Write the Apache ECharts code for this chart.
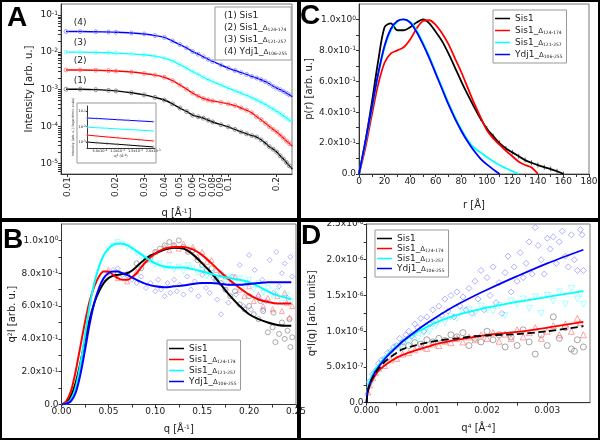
<!DOCTYPE html>
<html><head><meta charset="utf-8">
<script src="https://cdn.jsdelivr.net/npm/echarts@6.0.0/dist/echarts.min.js"></script>
<style>html,body{margin:0;padding:0;background:#fff}#c{width:600px;height:440px}</style>
</head><body><div id="c"></div><script>
// ---------- shared ----------
const sampleNames = ['Sis1', 'Sis1_', 'Sis1_', 'Ydj1_'];
const sampleSubs = ['', '124-174', '121-257', '106-255'];
const lineColors = ['#000000', '#ff0000', '#00ffff', '#0000ff'];
const markColors = ['#7a7a7a', '#ff7474', '#7dffff', '#8a8aff'];

// ---------- Panel A : log-log SAXS ----------
const aQ = [0.0098,0.012,0.015,0.018,0.02,0.025,0.03,0.035,0.04,0.045,0.05,0.055,0.06,0.065,0.07,0.075,0.08,0.09,0.1,0.11,0.12,0.13,0.14,0.15,0.16,0.17,0.18,0.19,0.2,0.21,0.22,0.23,0.24,0.25];
const aI1 = [1.0e-3,1.0e-3,9.7e-4,9.3e-4,9.0e-4,8.0e-4,7.0e-4,6.0e-4,5.1e-4,4.0e-4,3.1e-4,2.5e-4,2.0e-4,1.8e-4,1.65e-4,1.45e-4,1.3e-4,1.1e-4,9.6e-5,8.2e-5,7.0e-5,6.2e-5,5.6e-5,5.1e-5,4.3e-5,3.5e-5,2.8e-5,2.4e-5,2.0e-5,1.6e-5,1.3e-5,1.05e-5,8.5e-6,7.0e-6];
const aI2 = [3.3e-3,3.3e-3,3.25e-3,3.15e-3,3.1e-3,2.9e-3,2.65e-3,2.4e-3,2.1e-3,1.7e-3,1.3e-3,1.0e-3,7.8e-4,6.5e-4,5.6e-4,5.1e-4,4.8e-4,4.4e-4,4.0e-4,3.6e-4,3.1e-4,2.7e-4,2.3e-4,1.8e-4,1.5e-4,1.2e-4,9.8e-5,8.2e-5,7.0e-5,5.8e-5,4.8e-5,4.0e-5,3.4e-5,2.9e-5];
const aI3 = [1.0e-2,1.0e-2,9.8e-3,9.6e-3,9.4e-3,9.0e-3,8.5e-3,7.8e-3,6.9e-3,5.8e-3,4.6e-3,3.7e-3,3.0e-3,2.5e-3,2.1e-3,1.8e-3,1.6e-3,1.3e-3,1.07e-3,9.0e-4,7.8e-4,6.8e-4,5.9e-4,5.1e-4,4.5e-4,3.9e-4,3.3e-4,2.9e-4,2.5e-4,2.2e-4,1.9e-4,1.65e-4,1.45e-4,1.3e-4];
const aI4 = [3.6e-2,3.6e-2,3.55e-2,3.5e-2,3.45e-2,3.3e-2,3.1e-2,2.8e-2,2.5e-2,2.0e-2,1.6e-2,1.3e-2,1.04e-2,8.8e-3,7.5e-3,6.4e-3,5.6e-3,4.5e-3,3.7e-3,3.2e-3,2.8e-3,2.5e-3,2.2e-3,2.0e-3,1.8e-3,1.6e-3,1.4e-3,1.2e-3,1.07e-3,9.7e-4,8.7e-4,7.8e-4,7.0e-4,6.3e-4];
const aXTicks = [0.01,0.02,0.03,0.04,0.05,0.06,0.07,0.08,0.09,0.1,0.2];
const aYTicks = [-5,-4,-3,-2,-1];
// inset (Guinier region)
const insetQ2 = [1.4e-4,4e-4,7e-4,1.0e-3,1.3e-3,1.6e-3,2.0e-3];
const inset1 = [-3.0,-3.05,-3.1,-3.15,-3.2,-3.25,-3.32];
const inset2 = [-2.55,-2.61,-2.67,-2.73,-2.79,-2.85,-2.93];
const inset3 = [-2.03,-2.07,-2.11,-2.15,-2.19,-2.23,-2.28];
const inset4 = [-1.44,-1.47,-1.51,-1.55,-1.59,-1.63,-1.68];
const insetXTicks = [5e-4,1e-3,1.5e-3,2e-3];
const insetYTicks = [-3,-2,-1];

// ---------- Panel B : Kratky ----------
const bQ = [0,0.005,0.01,0.015,0.02,0.025,0.03,0.035,0.04,0.045,0.05,0.055,0.06,0.065,0.07,0.075,0.08,0.09,0.1,0.11,0.12,0.13,0.14,0.15,0.16,0.17,0.18,0.19,0.2,0.21,0.22,0.23,0.24,0.245];
const bV1 = [0,0.01,0.05,0.13,0.25,0.39,0.52,0.62,0.69,0.74,0.77,0.785,0.79,0.795,0.80,0.815,0.84,0.89,0.92,0.945,0.955,0.95,0.915,0.86,0.80,0.73,0.66,0.60,0.55,0.52,0.50,0.485,0.48,0.48];
const bV2 = [0,0.02,0.08,0.2,0.35,0.5,0.63,0.72,0.78,0.81,0.81,0.79,0.77,0.76,0.76,0.775,0.80,0.87,0.92,0.95,0.96,0.96,0.945,0.91,0.86,0.805,0.755,0.71,0.67,0.64,0.625,0.615,0.615,0.615];
const bV3 = [0,0.005,0.03,0.1,0.24,0.42,0.6,0.74,0.84,0.91,0.95,0.975,0.98,0.98,0.97,0.955,0.935,0.895,0.86,0.84,0.835,0.835,0.825,0.81,0.795,0.78,0.77,0.76,0.745,0.72,0.69,0.665,0.65,0.64];
const bV4 = [0,0.005,0.02,0.07,0.18,0.33,0.49,0.62,0.71,0.77,0.80,0.81,0.81,0.80,0.79,0.775,0.76,0.735,0.72,0.715,0.72,0.725,0.735,0.74,0.74,0.735,0.73,0.73,0.735,0.74,0.745,0.745,0.745,0.745];
const bPts1 = [[0.06,0.80],[0.07,0.79],[0.08,0.86],[0.085,0.83],[0.09,0.88],[0.095,0.90],[0.1,0.93],[0.105,0.95],[0.11,0.97],[0.115,0.99],[0.12,0.97],[0.125,1.00],[0.13,0.96],[0.135,0.93],[0.14,0.94],[0.145,0.88],[0.15,0.85],[0.155,0.82],[0.16,0.83],[0.165,0.76],[0.17,0.74],[0.175,0.70],[0.18,0.66],[0.185,0.69],[0.19,0.61],[0.195,0.58],[0.2,0.60],[0.205,0.55],[0.21,0.52],[0.215,0.57],[0.22,0.44],[0.225,0.47],[0.228,0.38],[0.232,0.43],[0.235,0.50],[0.238,0.40],[0.241,0.45],[0.244,0.35],[0.246,0.41],[0.212,0.63],[0.226,0.56],[0.2,0.66],[0.243,0.52]];
const bPts2 = [[0.05,0.82],[0.06,0.77],[0.07,0.75],[0.08,0.81],[0.09,0.88],[0.1,0.93],[0.11,0.96],[0.115,0.94],[0.12,0.97],[0.125,0.95],[0.13,0.98],[0.135,0.94],[0.14,0.96],[0.145,0.90],[0.15,0.93],[0.155,0.87],[0.16,0.88],[0.165,0.82],[0.17,0.80],[0.175,0.78],[0.18,0.74],[0.185,0.78],[0.19,0.70],[0.195,0.66],[0.2,0.72],[0.205,0.63],[0.21,0.67],[0.215,0.60],[0.22,0.65],[0.225,0.58],[0.23,0.66],[0.235,0.57],[0.24,0.62],[0.243,0.53],[0.246,0.60],[0.238,0.68]];
const bPts3 = [[0.05,0.95],[0.055,0.97],[0.06,0.99],[0.065,0.98],[0.07,0.96],[0.075,0.95],[0.08,0.92],[0.085,0.90],[0.09,0.88],[0.095,0.87],[0.1,0.85],[0.105,0.86],[0.11,0.83],[0.115,0.85],[0.12,0.82],[0.125,0.84],[0.13,0.81],[0.135,0.85],[0.14,0.83],[0.145,0.80],[0.15,0.82],[0.155,0.78],[0.16,0.80],[0.165,0.76],[0.17,0.79],[0.175,0.75],[0.18,0.78],[0.185,0.74],[0.19,0.77],[0.195,0.72],[0.2,0.76],[0.205,0.70],[0.21,0.74],[0.215,0.68],[0.22,0.71],[0.225,0.66],[0.23,0.69],[0.235,0.62],[0.24,0.67],[0.245,0.63]];
const bPts4 = [[0.05,0.80],[0.055,0.82],[0.06,0.83],[0.065,0.79],[0.07,0.80],[0.075,0.76],[0.08,0.74],[0.085,0.78],[0.09,0.71],[0.095,0.74],[0.1,0.69],[0.103,0.76],[0.106,0.70],[0.11,0.66],[0.113,0.74],[0.116,0.68],[0.12,0.76],[0.123,0.69],[0.126,0.73],[0.13,0.67],[0.134,0.78],[0.138,0.70],[0.142,0.75],[0.146,0.66],[0.15,0.79],[0.154,0.71],[0.158,0.68],[0.162,0.77],[0.166,0.64],[0.17,0.80],[0.174,0.70],[0.178,0.62],[0.182,0.78],[0.186,0.67],[0.19,0.85],[0.194,0.60],[0.198,0.74],[0.202,0.58],[0.206,0.82],[0.21,0.66],[0.214,0.76],[0.218,0.63],[0.222,0.88],[0.226,0.68],[0.229,0.93],[0.232,0.72],[0.235,0.80],[0.238,0.86],[0.241,0.65],[0.244,0.90],[0.246,0.78],[0.2,0.91],[0.17,0.55],[0.215,0.58]];
const bXTicks = [0,0.05,0.1,0.15,0.2,0.25];
const bYTicks = [0,0.2,0.4,0.6,0.8,1.0];

// ---------- Panel C : p(r) ----------
const cR = [0,5,10,15,20,25,30,35,40,45,50,55,60,65,70,75,80,85,90,95,100,105,110,115,120,125,130,135,140,145,150,155,160];
const cV1 = [0,0.21,0.46,0.73,0.95,0.975,0.93,0.93,0.95,0.98,1.0,0.975,0.92,0.86,0.78,0.69,0.60,0.515,0.435,0.36,0.295,0.245,0.2,0.165,0.14,0.115,0.09,0.073,0.058,0.044,0.032,0.018,0];
const cV2 = [0,0.17,0.38,0.58,0.72,0.78,0.80,0.82,0.87,0.94,0.99,0.995,0.965,0.91,0.84,0.75,0.66,0.56,0.46,0.37,0.285,0.23,0.19,0.15,0.115,0.08,0.058,0.042,0];
const cV3 = [0,0.2,0.42,0.64,0.82,0.93,0.985,1.0,0.985,0.93,0.85,0.76,0.66,0.56,0.46,0.37,0.29,0.22,0.17,0.14,0.11,0.083,0.058,0.037,0.018,0];
const cV4 = [0,0.21,0.43,0.65,0.83,0.94,0.99,1.0,0.98,0.92,0.84,0.75,0.65,0.55,0.45,0.36,0.28,0.21,0.15,0.10,0.062,0.03,0];
const cXTicks = [0,20,40,60,80,100,120,140,160,180];
const cYTicks = [0,0.2,0.4,0.6,0.8,1.0];

// ---------- Panel D : Porod (values in units of 1e-6) ----------
const dX = [0,0.00001,0.00003,0.00006,0.0001,0.00015,0.0002,0.0003,0.0004,0.0005,0.0006,0.0008,0.001,0.0012,0.0015,0.0018,0.002,0.0025,0.003,0.0036];
const dV1 = [0,0.11,0.2,0.28,0.35,0.42,0.48,0.57,0.64,0.7,0.75,0.8,0.84,0.87,0.9,0.93,0.94,0.96,1.0,1.07];
const dV2 = [0,0.1,0.18,0.25,0.32,0.39,0.45,0.52,0.58,0.63,0.67,0.73,0.78,0.83,0.88,0.92,0.95,0.99,1.05,1.13];
const dV3 = [0.02,0.14,0.24,0.32,0.4,0.47,0.53,0.63,0.72,0.79,0.86,0.97,1.06,1.14,1.23,1.29,1.33,1.41,1.48,1.56];
const dV4 = [0,0.12,0.2,0.28,0.36,0.44,0.5,0.61,0.7,0.78,0.86,0.99,1.11,1.22,1.37,1.5,1.58,1.77,1.95,2.14];
const dPts1 = [[0.0006,0.78],[0.0007,0.8],[0.0008,0.84],[0.0009,0.82],[0.001,0.88],[0.0011,0.85],[0.0012,0.9],[0.0013,0.87],[0.0014,0.95],[0.0015,0.92],[0.0016,0.98],[0.0017,0.8],[0.0018,0.9],[0.0019,0.85],[0.002,1.0],[0.0021,0.88],[0.0022,0.95],[0.0023,0.78],[0.0024,0.92],[0.0025,0.8],[0.0026,1.02],[0.0027,0.85],[0.0028,0.68],[0.0029,0.95],[0.003,0.8],[0.0031,1.2],[0.0032,0.9],[0.0033,1.05],[0.0034,0.75],[0.0035,0.88],[0.0036,0.78],[0.00345,0.72]];
const dPts2 = [[0.00002,0.15],[0.00005,0.25],[0.0001,0.35],[0.00015,0.42],[0.0002,0.48],[0.0003,0.52],[0.0004,0.6],[0.0005,0.62],[0.0006,0.68],[0.0007,0.7],[0.0008,0.74],[0.0009,0.78],[0.001,0.76],[0.0011,0.82],[0.0012,0.8],[0.0013,0.86],[0.0014,0.84],[0.0015,0.9],[0.0016,0.85],[0.0017,0.92],[0.0018,0.88],[0.0019,0.95],[0.002,0.9],[0.0021,0.98],[0.0022,0.86],[0.0023,0.96],[0.0024,0.9],[0.0025,1.02],[0.0026,0.92],[0.0027,0.98],[0.0028,1.05],[0.0029,0.9],[0.003,1.0],[0.0031,1.08],[0.0032,0.95],[0.0033,1.1],[0.0034,1.0],[0.0035,1.18],[0.0036,0.95],[0.00355,1.12]];
const dPts3 = [[0.00005,0.25],[0.0001,0.3],[0.0002,0.42],[0.0003,0.55],[0.0004,0.65],[0.0005,0.78],[0.00055,0.75],[0.0006,0.82],[0.00065,0.88],[0.0007,0.85],[0.00075,0.92],[0.0008,0.95],[0.00085,0.9],[0.0009,1.0],[0.00095,0.98],[0.001,1.05],[0.00105,1.0],[0.0011,1.1],[0.00115,1.08],[0.0012,1.15],[0.0013,1.12],[0.0014,1.2],[0.0015,1.18],[0.0016,1.28],[0.0017,1.3],[0.0018,1.25],[0.0019,1.35],[0.002,1.3],[0.0021,1.28],[0.0022,1.36],[0.0023,1.22],[0.0024,1.42],[0.0025,1.38],[0.0026,1.45],[0.0027,1.32],[0.0028,1.48],[0.0029,1.25],[0.003,1.5],[0.0031,1.42],[0.0032,1.55],[0.0033,1.38],[0.0034,1.6],[0.0035,1.45],[0.0036,1.38],[0.00355,1.52]];
const dPts4 = [[0.00005,0.3],[0.0001,0.4],[0.00015,0.45],[0.0002,0.55],[0.00025,0.6],[0.0003,0.62],[0.00035,0.7],[0.0004,0.72],[0.00045,0.78],[0.0005,0.8],[0.00055,0.9],[0.0006,0.85],[0.00065,0.95],[0.0007,1.0],[0.00075,0.93],[0.0008,1.1],[0.00085,1.05],[0.0009,1.18],[0.00095,1.0],[0.001,1.2],[0.00105,1.1],[0.0011,1.3],[0.00115,1.15],[0.0012,1.35],[0.00125,1.22],[0.0013,1.45],[0.00135,1.28],[0.0014,1.5],[0.00145,1.2],[0.0015,1.55],[0.00155,1.35],[0.0016,1.48],[0.00165,1.3],[0.0017,1.6],[0.00175,1.25],[0.0018,1.7],[0.00185,1.45],[0.0019,1.85],[0.00195,1.3],[0.002,1.75],[0.00205,1.5],[0.0021,1.9],[0.00215,1.4],[0.0022,1.68],[0.00225,1.25],[0.0023,1.82],[0.00235,2.05],[0.0024,1.55],[0.00245,1.9],[0.0025,1.7],[0.00255,2.1],[0.0026,1.75],[0.00265,1.95],[0.0027,2.25],[0.00275,1.8],[0.0028,2.45],[0.00285,2.2],[0.0029,2.0],[0.00295,1.8],[0.003,2.3],[0.00305,2.15],[0.0031,2.32],[0.00315,1.95],[0.0032,2.25],[0.00325,2.4],[0.0033,2.05],[0.00335,1.9],[0.0034,2.35],[0.00345,2.0],[0.0035,1.85],[0.00355,2.42],[0.0036,1.85],[0.00358,2.35]];
const dXTicks = [0,0.001,0.002,0.003];
const dYTicks = [0,0.5,1.0,1.5,2.0,2.5];
const dUnit = 1e-6;

// ================= build =================
const FONT = 'DejaVu Sans';
const TXT = '#222';
const lg = Math.log10;
const chart = echarts.init(document.getElementById('c'), null, {renderer: 'canvas', width: 600, height: 440});

function rich(fs) {
  return {
    b: {fontSize: fs, fontFamily: FONT, color: TXT},
    t: {fontSize: fs, fontFamily: FONT, color: TXT},
    s: {fontSize: Math.max(3, Math.round(fs * 0.62)), fontFamily: FONT, color: TXT, verticalAlign: 'top'}
  };
}
function sci(v) {
  if (v === 0) return '{b|0.0}';
  const e = Math.floor(lg(v) + 1e-9);
  const m = v / Math.pow(10, e);
  return '{b|' + m.toFixed(1) + 'x10}{s|' + e + '}';
}
function halfSteps(ticks) {
  const out = [];
  for (let i = 0; i < ticks.length; i++) {
    out.push(ticks[i]);
    if (i < ticks.length - 1) out.push((ticks[i] + ticks[i + 1]) / 2);
  }
  return out;
}
const aYTickMarks = [];
for (let n = -6; n <= -1; n++) for (let k = 1; k <= 9; k++) {
  const v = n + lg(k);
  if (v > -5.29 && v < -0.70) aYTickMarks.push(v);
}

function axis(o) {
  return {
    type: 'value', gridIndex: o.grid, min: o.min, max: o.max, z: o.z || 0,
    splitLine: {show: false},
    axisLine: {show: true, onZero: false, lineStyle: {color: '#333', width: 1}},
    axisTick: {show: true, inside: false, length: o.tickLen || 3, customValues: o.ticks, lineStyle: {color: '#333'}},
    axisLabel: {show: true, customValues: o.labels, formatter: o.fmt, fontFamily: FONT, fontSize: o.fs || 9,
      color: TXT, margin: o.margin || 3, rotate: o.rotate || 0, rich: rich(o.fs || 9),
      showMinLabel: true, showMaxLabel: true, hideOverlap: false},
    name: o.name || '', nameLocation: 'middle', nameGap: o.gap || 20, nameRotate: o.nameRotate,
    nameTextStyle: {fontFamily: FONT, fontSize: o.nfs || 10, color: TXT, rich: rich(o.nfs || 10)}
  };
}

const xAxes = [
  axis({grid: 0, min: -2.04, max: -0.604, ticks: aXTicks.map(lg), labels: aXTicks.map(lg), rotate: 90,
    fmt: v => '{b|' + parseFloat(Math.pow(10, v).toFixed(2)) + '}', name: '{t|q [Å}{s|-1}{t|]}', gap: 34}),
  axis({grid: 1, min: 0, max: 0.25, ticks: halfSteps(bXTicks), labels: bXTicks,
    fmt: v => '{b|' + v.toFixed(2) + '}', name: '{t|q [Å}{s|-1}{t|]}', gap: 20}),
  axis({grid: 2, min: 0, max: 180, ticks: halfSteps(cXTicks), labels: cXTicks,
    fmt: v => '{b|' + v + '}', name: 'r [Å]', gap: 26}),
  axis({grid: 3, min: 0, max: 0.00371, ticks: halfSteps(dXTicks), labels: dXTicks,
    fmt: v => '{b|' + v.toFixed(3) + '}', name: '{t|q}{s|4}{t| [Å}{s|-4}{t|]}', gap: 21}),
  axis({grid: 4, min: 1.34e-4, max: 2.05e-3, ticks: insetXTicks, labels: insetXTicks, fs: 3.5, nfs: 3.5, tickLen: 1, margin: 1, z: 20,
    fmt: sci, name: '{t|q}{s|2}{t| (Å}{s|-2}{t|)}', gap: 5})
];
const yAxes = [
  axis({grid: 0, min: -5.29, max: -0.70, ticks: aYTickMarks, labels: aYTicks,
    fmt: v => '{b|10}{s|' + v + '}', name: 'Intensity [arb. u.]', gap: 27, nameRotate: 90}),
  axis({grid: 1, min: 0, max: 1.1, ticks: halfSteps(bYTicks), labels: bYTicks,
    fmt: sci, name: '{t|q}{s|2}{t|I [arb. u.]}', gap: 44, nameRotate: 90}),
  axis({grid: 2, min: 0, max: 1.1, ticks: halfSteps(cYTicks), labels: cYTicks,
    fmt: sci, name: 'p(r) [arb. u.]', gap: 45, nameRotate: 90}),
  axis({grid: 3, min: 0, max: 2.5, ticks: halfSteps(dYTicks), labels: dYTicks,
    fmt: v => sci(v * dUnit), name: '{t|q}{s|4}{t|I(q) [arb. units]}', gap: 49, nameRotate: 90}),
  axis({grid: 4, min: -3.39, max: -0.66, ticks: insetYTicks, labels: insetYTicks, fs: 3.5, nfs: 3.2, tickLen: 1, margin: 1, z: 20,
    fmt: v => '{b|10}{s|' + v + '}', name: 'Intensity [arb. u.] (logarithmic scale)', gap: 6, nameRotate: 90})
];

const grids = [
  {left: 61, top: 4, width: 231, height: 170},
  {left: 61.5, top: 224, width: 234.5, height: 180.5},
  {left: 359, top: 4, width: 230, height: 170},
  {left: 366.6, top: 224, width: 223.4, height: 178.7},
  {left: 87, top: 106, width: 68, height: 42}
].map((g, i) => Object.assign(g, {show: i < 4, borderColor: '#777', borderWidth: 1, backgroundColor: 'transparent',
  containLabel: false, outerBoundsMode: 'none'}));

const series = [];
const aSets = [aI1, aI2, aI3, aI4];
const bSets = [bV1, bV2, bV3, bV4];
const bPts = [bPts1, bPts2, bPts3, bPts4];
const cSets = [cV1, cV2, cV3, cV4];
const dSets = [dV1, dV2, dV3, dV4];
const dPts = [dPts1, dPts2, dPts3, dPts4];
const insetSets = [inset1, inset2, inset3, inset4];
const shapes = ['circle', 'triangle', 'triangle', 'diamond'];
const rotations = [0, 0, 180, 0];

for (let i = 0; i < 4; i++) {
  // A
  series.push({
    type: 'line', name: 'A' + (i + 1), xAxisIndex: 0, yAxisIndex: 0, z: 3, smooth: 0.3,
    data: aQ.map((q, j) => [lg(q), lg(aSets[i][j])]),
    symbol: 'circle', symbolSize: 4, showSymbol: true,
    itemStyle: {color: 'rgba(0,0,0,0)', borderColor: markColors[i], borderWidth: 0.8},
    lineStyle: {color: lineColors[i], width: 1.4},
    markPoint: {
      symbol: 'circle', symbolSize: 1, itemStyle: {color: 'rgba(0,0,0,0)'},
      label: {show: true, position: 'top', distance: 4, formatter: '(' + (i + 1) + ')', fontFamily: FONT, fontSize: 9, color: TXT},
      data: [{coord: [lg(aQ[1]), lg(aSets[i][1])]}]
    }
  });
  // inset
  series.push({
    type: 'line', name: 'I' + (i + 1), xAxisIndex: 4, yAxisIndex: 4, z: 21,
    data: insetQ2.map((x, j) => [x, insetSets[i][j]]),
    symbol: 'circle', symbolSize: 2, showSymbol: true,
    itemStyle: {color: 'rgba(0,0,0,0)', borderColor: markColors[i], borderWidth: 0.5},
    lineStyle: {color: lineColors[i], width: 1},
    markPoint: {
      symbol: 'circle', symbolSize: 1, itemStyle: {color: 'rgba(0,0,0,0)'},
      label: {show: true, position: 'top', distance: 1, formatter: '(' + (i + 1) + ')', fontFamily: FONT, fontSize: 3.5, color: TXT},
      data: [{coord: [insetQ2[1], insetSets[i][1]]}]
    }
  });
  // B scatter + line
  series.push({
    type: 'scatter', name: 'Bs' + (i + 1), xAxisIndex: 1, yAxisIndex: 1, z: 2,
    data: bPts[i], symbol: shapes[i], symbolSize: 5, symbolRotate: rotations[i],
    itemStyle: {color: 'rgba(0,0,0,0)', borderColor: markColors[i], borderWidth: 0.8, opacity: 0.8}
  });
  series.push({
    type: 'line', name: 'B' + (i + 1), xAxisIndex: 1, yAxisIndex: 1, z: 3, smooth: 0.3,
    data: bQ.map((q, j) => [q, bSets[i][j]]), showSymbol: false, symbol: 'none',
    itemStyle: {color: lineColors[i]}, lineStyle: {color: lineColors[i], width: 2}
  });
  // C
  series.push({
    type: 'line', name: 'C' + (i + 1), xAxisIndex: 2, yAxisIndex: 2, z: 3, smooth: 0.3,
    data: cSets[i].map((v, j) => [cR[j], v]), showSymbol: false, symbol: 'none',
    itemStyle: {color: lineColors[i]}, lineStyle: {color: lineColors[i], width: 1.8}
  });
  // D
  series.push({
    type: 'scatter', name: 'Ds' + (i + 1), xAxisIndex: 3, yAxisIndex: 3, z: 2,
    data: dPts[i], symbol: shapes[i], symbolSize: 6, symbolRotate: rotations[i],
    itemStyle: {color: 'rgba(0,0,0,0)', borderColor: markColors[i], borderWidth: 0.8, opacity: 0.85}
  });
  series.push({
    type: 'line', name: 'D' + (i + 1), xAxisIndex: 3, yAxisIndex: 3, z: i === 0 ? 4 : 3, smooth: 0.3,
    data: dX.map((x, j) => [x, dSets[i][j]]), showSymbol: false, symbol: 'none',
    itemStyle: {color: lineColors[i]}, lineStyle: {color: lineColors[i], width: 1.8, type: i === 0 ? 'dashed' : 'solid'}
  });
}
// error-bar ticks on the tail of Sis1 p(r)
series.push({
  type: 'scatter', name: 'Cerr', xAxisIndex: 2, yAxisIndex: 2, z: 2,
  data: cV1.map((v, j) => [cR[j], v]).filter(p => p[0] >= 95),
  symbol: 'rect', symbolSize: [1, 5], itemStyle: {color: '#444'}
});

function legendText(name) {
  const i = +name.slice(1) - 1;
  const pre = name[0] === 'A' ? '(' + (i + 1) + ') ' : '';
  let s = '{n|' + pre + sampleNames[i] + '}';
  if (sampleSubs[i]) s += '{d|Δ}{u|' + sampleSubs[i] + '}';
  return s;
}
const legendRich = {
  n: {fontFamily: FONT, fontSize: 9, color: TXT},
  d: {fontFamily: FONT, fontSize: 7, color: TXT, verticalAlign: 'bottom'},
  u: {fontFamily: FONT, fontSize: 4.5, color: TXT, verticalAlign: 'bottom'}
};
function legend(prefix, left, top, gap, withIcon) {
  return {
    data: [1, 2, 3, 4].map(k => prefix + k), left: left, top: top, orient: 'vertical',
    icon: withIcon ? 'path://M0 0H10V1H0Z' : 'rect', itemWidth: withIcon ? 15 : 0, itemHeight: withIcon ? 2 : 0,
    itemGap: gap, padding: withIcon ? [4, 4, 4, 2] : [4, 4, 4, 3],
    borderColor: '#999', borderWidth: 1, backgroundColor: '#fff', selectedMode: false,
    formatter: legendText, textStyle: {fontFamily: FONT, fontSize: 9, color: TXT, rich: legendRich}
  };
}

const graphic = [
  {type: 'rect', z: 15, shape: {x: 77, y: 103, width: 79, height: 60}, style: {fill: '#fff', stroke: '#999', lineWidth: 1}},
  {type: 'text', z: 100, left: 7, top: 4, style: {text: 'A', font: 'bold 28px "Liberation Sans", Arial', fill: '#000'}},
  {type: 'text', z: 100, left: 3, top: 226, style: {text: 'B', font: 'bold 28px "Liberation Sans", Arial', fill: '#000'}},
  {type: 'text', z: 100, left: 300, top: 2, style: {text: 'C', font: 'bold 28px "Liberation Sans", Arial', fill: '#000'}},
  {type: 'text', z: 100, left: 301, top: 222, style: {text: 'D', font: 'bold 28px "Liberation Sans", Arial', fill: '#000'}},
  {type: 'rect', z: 100, shape: {x: 1, y: 1, width: 297, height: 218}, style: {fill: 'none', stroke: '#000', lineWidth: 2}},
  {type: 'rect', z: 100, shape: {x: 300, y: 1, width: 299, height: 218}, style: {fill: 'none', stroke: '#000', lineWidth: 2}},
  {type: 'rect', z: 100, shape: {x: 1, y: 221, width: 297, height: 218}, style: {fill: 'none', stroke: '#000', lineWidth: 2}},
  {type: 'rect', z: 100, shape: {x: 300, y: 221, width: 299, height: 218}, style: {fill: 'none', stroke: '#000', lineWidth: 2}}
];

chart.setOption({
  animation: false,
  backgroundColor: '#fff',
  grid: grids,
  xAxis: xAxes,
  yAxis: yAxes,
  legend: [
    legend('A', 215, 7, 3, false),
    legend('B', 167, 340, 2, true),
    legend('C', 493, 10, 3, true),
    legend('D', 375, 230, 1, true)
  ],
  graphic: graphic,
  series: series
});
</script></body></html>
